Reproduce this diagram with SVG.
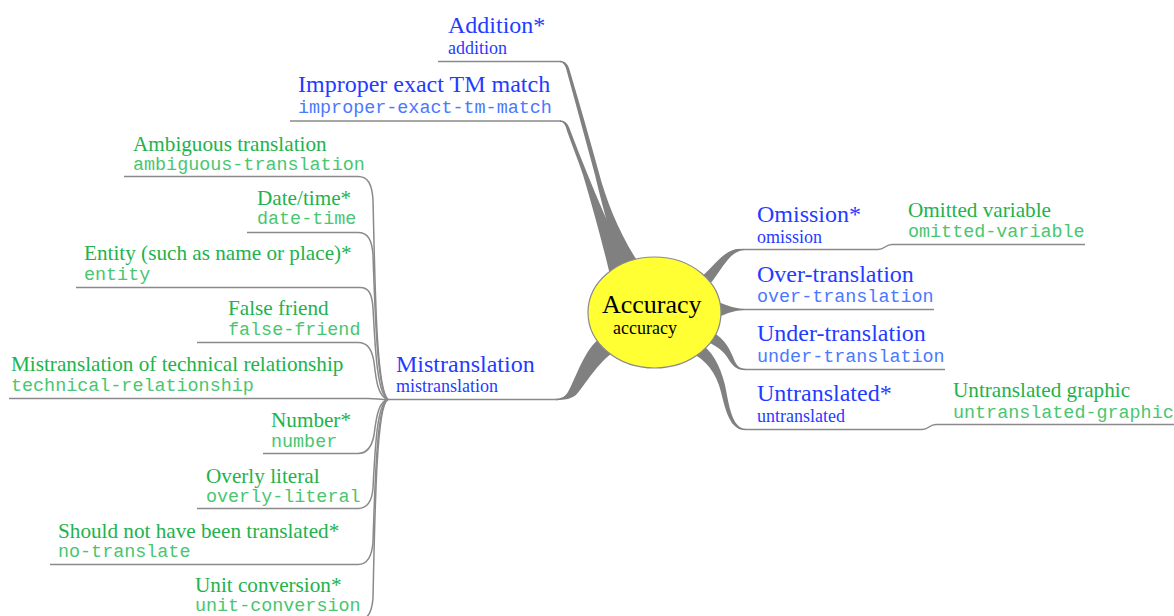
<svg xmlns="http://www.w3.org/2000/svg" width="1174" height="616" viewBox="0 0 1174 616">
<style>
.tb{font-family:"Liberation Serif",serif;font-size:24px;fill:#1f3cff}
.sb{font-family:"Liberation Serif",serif;font-size:18px;fill:#1f3cff}
.mb{font-family:"Liberation Mono",monospace;font-size:18.4px;fill:#4a78ff}
.tg{font-family:"Liberation Serif",serif;font-size:21.2px;fill:#22b24c}
.mg{font-family:"Liberation Mono",monospace;font-size:18.4px;fill:#48c670}
.ul{fill:none;stroke:#8a8a8a;stroke-width:1.5}
.band{fill:#808080}
</style>
<rect width="1174" height="616" fill="#ffffff"/>
<g id="connectors">
<path class="band" d="M560,60.8 Q566,60.8 569,68 C580,105 590,140 599,173 C606,200 620,235 638,262 L620,268 C612,240 602,205 595,175 C586,142 577,108 567,72 Q565,62.2 560,62.2 Z"/>
<path class="band" d="M560,120.3 Q566,120.3 569,127 C575,143 581,158 587,173 C598,200 612,235 630,264 L610,275 C603,245 592,205 583,175 C578,160 572,145 567,131 Q565,121.7 560,121.7 Z"/>
<path class="band" d="M556,398.8 Q564,398.8 568,392 C576,378 584,350 600,338 L614,352 C598,362 585,385 576,395 Q570,400.2 556,400.2 Z"/>
<path class="band" d="M697,280 C712,270 720,253 736,249 L744,248.8 L744,250.2 C732,251 726,262 716,276 C712,282 708,286 704,290 Z"/>
<path class="band" d="M712,300 C725,304 732,308.5 744,308.8 L744,310.2 C732,310.5 725,314 712,320 Z"/>
<path class="band" d="M708,330 C722,336 728,345 733,357 C736,365 739,368.8 746,368.8 L746,370.2 C736,370.2 733,366 729,360 C724,351 716,345 703,340 Z"/>
<path class="band" d="M698,342 C712,350 720,365 725,385 C729,405 732,428.8 746,428.8 L746,430.2 C730,430.2 726,412 721,392 C716,372 706,360 690,352 Z"/>
<path class="ul" d="M878,249.5 C885,249.5 885,244.5 892,244.5"/>
<path class="ul" d="M922,429.5 C929,429.5 929,424.5 936,424.5"/>
<path class="ul" d="M358,176.5 C368,176.5 372,184 373,200 C375,280 376,390 388,399.5"/>
<path class="ul" d="M358,232.5 C368,232.5 372,240 373,255 C375,310 377,392 388,399.5"/>
<path class="ul" d="M360,287.5 C369,287.5 372,294 373,308 C375,345 377,395 388,399.5"/>
<path class="ul" d="M358,342.5 C368,342.5 372,350 374,362 C376,380 378,397 388,399.5"/>
<path class="ul" d="M368,398.5 C376,398.5 380,399.5 388,399.5"/>
<path class="ul" d="M358,453.5 C368,453.5 372,446 374,435 C376,420 378,401 388,399.5"/>
<path class="ul" d="M358,508.5 C368,508.5 372,501 373,488 C375,450 377,402 388,399.5"/>
<path class="ul" d="M358,564.5 C368,564.5 372,556 373,542 C375,480 377,403 388,399.5"/>
<path class="ul" d="M358,620.5 C368,620.5 372,612 373,598 C375,500 377,404 388,399.5"/>
</g>
<g id="accuracy">
<ellipse cx="654.5" cy="312.5" rx="66.5" ry="55.5" fill="#ffff33" stroke="#8a8a8a" stroke-width="1.2"/>
<text x="602" y="313" font-family="Liberation Serif, serif" font-size="26" fill="#000">Accuracy</text>
<text x="613" y="334" font-family="Liberation Serif, serif" font-size="18" fill="#000">accuracy</text>
</g>
<g id="addition">
<text class="tb" x="448" y="33">Addition*</text>
<text class="sb" x="448" y="54">addition</text>
<path class="ul" d="M438,61.5 H561"/>
</g>
<g id="improper-exact-tm-match">
<text class="tb" x="298" y="92">Improper exact TM match</text>
<text class="mb" x="298" y="113">improper-exact-tm-match</text>
<path class="ul" d="M290,121 H561"/>
</g>
<g id="omission">
<text class="tb" x="757" y="222">Omission*</text>
<text class="sb" x="757" y="243">omission</text>
<path class="ul" d="M744,249.5 H878"/>
</g>
<g id="omitted-variable">
<text class="tg" x="908" y="217">Omitted variable</text>
<text class="mg" x="908" y="237">omitted-variable</text>
<path class="ul" d="M892,244.5 H1085"/>
</g>
<g id="over-translation">
<text class="tb" x="757" y="282">Over-translation</text>
<text class="mb" x="757" y="302">over-translation</text>
<path class="ul" d="M744,309.5 H934"/>
</g>
<g id="under-translation">
<text class="tb" x="757" y="341">Under-translation</text>
<text class="mb" x="757" y="362">under-translation</text>
<path class="ul" d="M746,369.5 H945"/>
</g>
<g id="untranslated">
<text class="tb" x="757" y="401">Untranslated*</text>
<text class="sb" x="757" y="422">untranslated</text>
<path class="ul" d="M746,429.5 H922"/>
</g>
<g id="untranslated-graphic">
<text class="tg" x="953" y="397">Untranslated graphic</text>
<text class="mg" x="953" y="418">untranslated-graphic</text>
<path class="ul" d="M936,424.5 H1174"/>
</g>
<g id="mistranslation">
<text class="tb" x="396" y="372">Mistranslation</text>
<text class="sb" x="396" y="392">mistranslation</text>
<path class="ul" d="M386,399.5 H558"/>
</g>
<g id="ambiguous-translation">
<text class="tg" x="133" y="151">Ambiguous translation</text>
<text class="mg" x="133" y="170">ambiguous-translation</text>
<path class="ul" d="M124,176.5 H358"/>
</g>
<g id="date-time">
<text class="tg" x="257" y="205">Date/time*</text>
<text class="mg" x="257" y="224">date-time</text>
<path class="ul" d="M247,232.5 H358"/>
</g>
<g id="entity">
<text class="tg" x="84" y="260">Entity (such as name or place)*</text>
<text class="mg" x="84" y="280">entity</text>
<path class="ul" d="M76,287.5 H360"/>
</g>
<g id="false-friend">
<text class="tg" x="228" y="315">False friend</text>
<text class="mg" x="228" y="335">false-friend</text>
<path class="ul" d="M197,342.5 H358"/>
</g>
<g id="technical-relationship">
<text class="tg" x="11" y="371">Mistranslation of technical relationship</text>
<text class="mg" x="11" y="391">technical-relationship</text>
<path class="ul" d="M9,398.5 H368"/>
</g>
<g id="number">
<text class="tg" x="271" y="427">Number*</text>
<text class="mg" x="271" y="447">number</text>
<path class="ul" d="M263,453.5 H358"/>
</g>
<g id="overly-literal">
<text class="tg" x="206" y="483">Overly literal</text>
<text class="mg" x="206" y="502">overly-literal</text>
<path class="ul" d="M197,508.5 H358"/>
</g>
<g id="no-translate">
<text class="tg" x="58" y="538">Should not have been translated*</text>
<text class="mg" x="58" y="557">no-translate</text>
<path class="ul" d="M50,564.5 H358"/>
</g>
<g id="unit-conversion">
<text class="tg" x="195" y="592">Unit conversion*</text>
<text class="mg" x="195" y="611">unit-conversion</text>
<path class="ul" d="M187,620.5 H358"/>
</g>
</svg>
